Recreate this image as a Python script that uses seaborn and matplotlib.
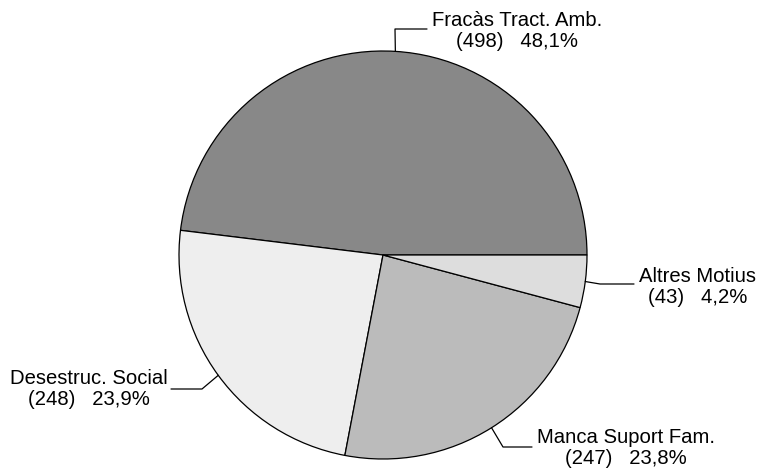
import numpy as np
import matplotlib
matplotlib.use("Agg")
import matplotlib.pyplot as plt
import seaborn as sns

# data
labels = ["Fracàs Tract. Amb.", "Desestruc. Social", "Manca Suport Fam.", "Altres Motius"]
counts = [498, 248, 247, 43]
pcts = ["48,1%", "23,9%", "23,8%", "4,2%"]
colors = ["#888888", "#eeeeee", "#bbbbbb", "#dddddd"]

sns.set_theme(style="white")
plt.rcParams['font.family'] = ['Liberation Sans', 'DejaVu Sans']

fig = plt.figure(figsize=(7.6, 4.68), dpi=100)
ax = fig.add_axes([0, 0, 1, 1])

# pixel helpers (pie radius = 204 px, centre at 383,255)
S = 204.0
cx, cy = 383.0, 255.0
def px(x, y):
    return (x - cx) / S, (cy - y) / S

wedges, _ = ax.pie(counts, colors=colors, startangle=0, counterclock=True,
                   radius=1, center=(0, 0),
                   wedgeprops=dict(edgecolor="black", linewidth=0.9))

# leader line elbows / ends (layout, in pixels)
elbow = [(395, 29), (202, 389), (503, 447), (600, 284)]
end = [(427, 29), (171, 389), (532, 447), (634, 284)]
text_anchor = [(432, 31, "left"), (168, 389, "right"), (537, 448, "left"), (639, 287, "left")]

for w, lab, n, p, e, en, ta in zip(wedges, labels, counts, pcts, elbow, end, text_anchor):
    ang = np.deg2rad((w.theta1 + w.theta2) / 2)
    x0, y0 = np.cos(ang), np.sin(ang)
    ex, ey = px(*e)
    nx, ny = px(*en)
    ax.plot([x0, ex, nx], [y0, ey, ny], color="black", lw=0.9)
    tx, ty = px(ta[0], ta[1])
    ax.text(tx, ty, f"{lab}\n({n})   {p}", ha=ta[2], va="center",
            multialignment="center", fontsize=14.6, linespacing=1.1,
            color="black")

ax.set_xlim(-cx / S, (760 - cx) / S)
ax.set_ylim(-(468 - cy) / S, cy / S)
ax.set_aspect("equal")
ax.axis("off")

fig.savefig("out.png", dpi=100, facecolor="white")
